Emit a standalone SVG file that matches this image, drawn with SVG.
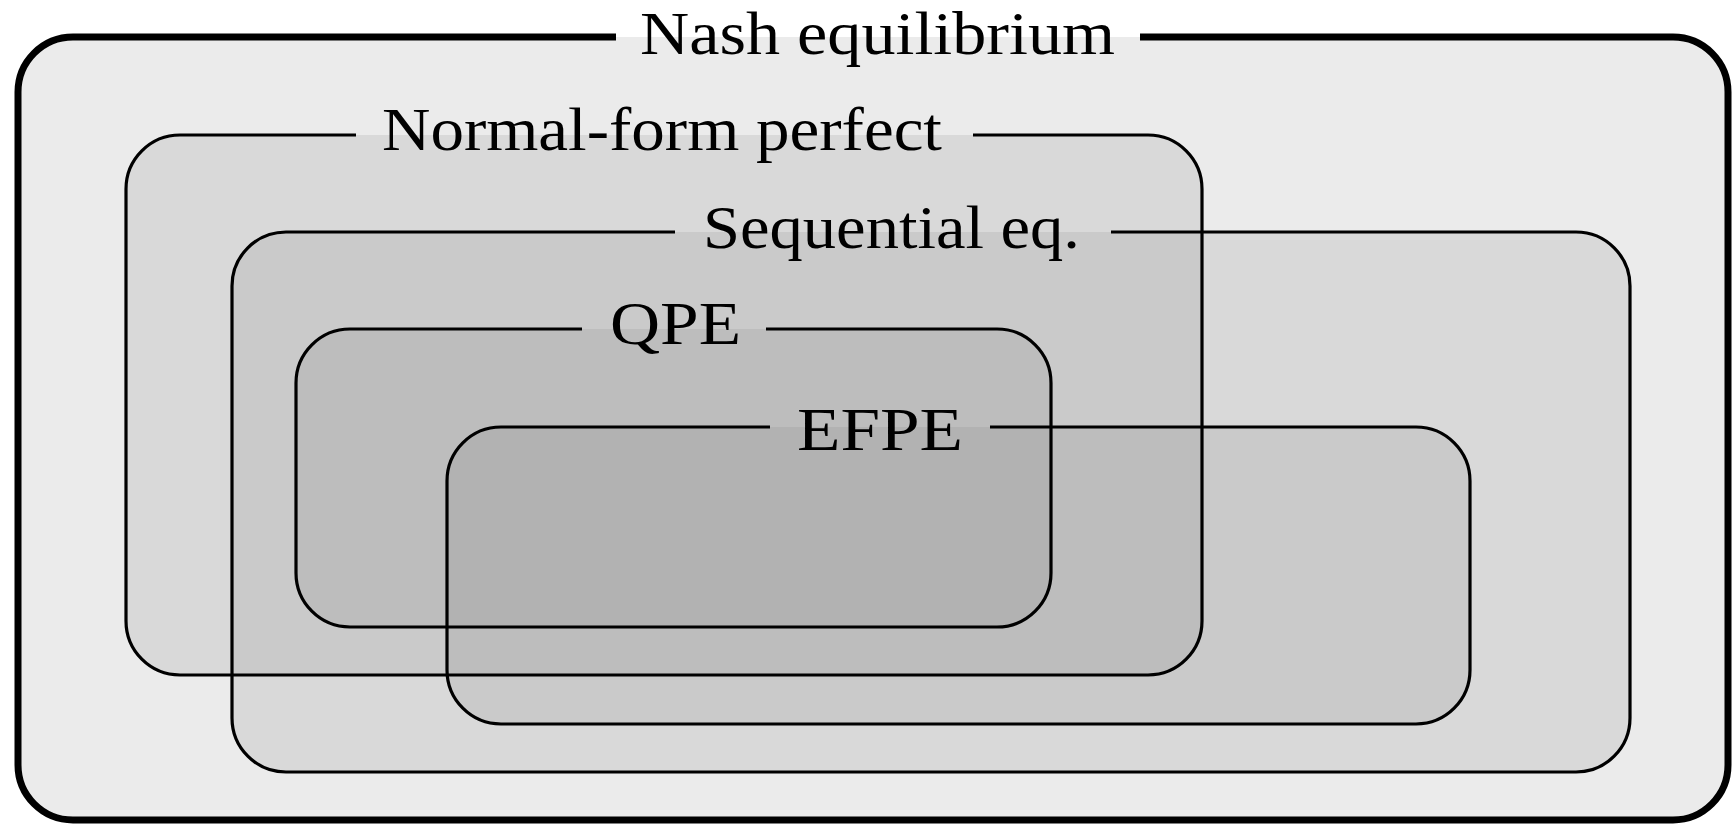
<svg xmlns="http://www.w3.org/2000/svg" width="1733" height="825" viewBox="0 0 1733 825">
<style>
.fill{fill:#717171;fill-opacity:0.14;stroke:none}
.edge{fill:none;stroke:#000;stroke-width:3.2;stroke-linejoin:round}
.outer{stroke-width:7}
.lbl{font-family:"Liberation Serif","DejaVu Serif",serif;font-size:62px;fill:#000}
</style>
<rect width="1733" height="825" fill="#fff"/>
<g id="fills">
<rect class="fill" x="18" y="37" width="1710" height="783" rx="55"/>
<rect class="fill" x="126" y="135" width="1076" height="540" rx="54"/>
<rect class="fill" x="232" y="232" width="1398" height="540" rx="54"/>
<rect class="fill" x="296" y="329" width="755" height="298" rx="54"/>
<rect class="fill" x="447" y="427" width="1023" height="297" rx="54"/>
</g>
<g id="nash">
<path class="edge outer" d="M1140 37 H1673 A55 55 0 0 1 1728 92 V765 A55 55 0 0 1 1673 820 H73 A55 55 0 0 1 18 765 V92 A55 55 0 0 1 73 37 H616"/>
<text class="lbl" x="640" y="54" textLength="475" lengthAdjust="spacingAndGlyphs">Nash equilibrium</text>
</g>
<g id="normal-form">
<path class="edge" d="M973 135 H1148 A54 54 0 0 1 1202 189 V621 A54 54 0 0 1 1148 675 H180 A54 54 0 0 1 126 621 V189 A54 54 0 0 1 180 135 H356"/>
<text class="lbl" x="382" y="150" textLength="560" lengthAdjust="spacingAndGlyphs">Normal-form perfect</text>
</g>
<g id="sequential">
<path class="edge" d="M1111 232 H1576 A54 54 0 0 1 1630 286 V718 A54 54 0 0 1 1576 772 H286 A54 54 0 0 1 232 718 V286 A54 54 0 0 1 286 232 H675"/>
<text class="lbl" x="703" y="248" textLength="377" lengthAdjust="spacingAndGlyphs">Sequential eq.</text>
</g>
<g id="qpe">
<path class="edge" d="M766 329 H997 A54 54 0 0 1 1051 383 V573 A54 54 0 0 1 997 627 H350 A54 54 0 0 1 296 573 V383 A54 54 0 0 1 350 329 H582"/>
<text class="lbl" x="610" y="344" textLength="131" lengthAdjust="spacingAndGlyphs">QPE</text>
</g>
<g id="efpe">
<path class="edge" d="M990 427 H1416 A54 54 0 0 1 1470 481 V670 A54 54 0 0 1 1416 724 H501 A54 54 0 0 1 447 670 V481 A54 54 0 0 1 501 427 H770"/>
<text class="lbl" x="797" y="450" textLength="166" lengthAdjust="spacingAndGlyphs">EFPE</text>
</g>
</svg>
